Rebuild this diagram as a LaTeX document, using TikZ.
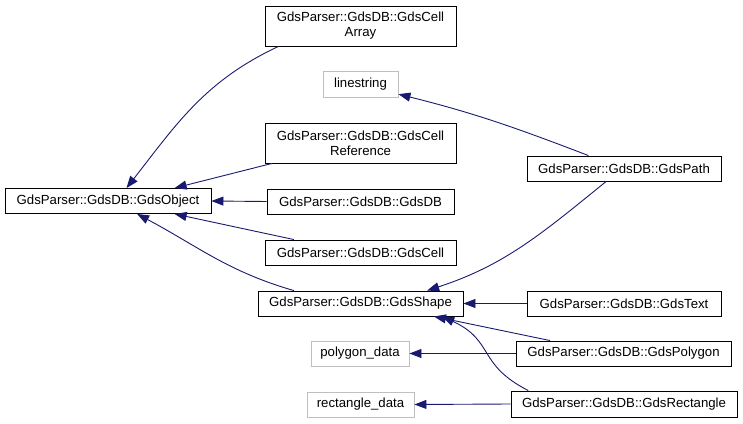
\documentclass[tikz,border=0pt]{standalone}
\usepackage{fontspec}
\setmainfont{Liberation Sans}
\usepackage{xcolor}
\usepackage{tikz}
\usetikzlibrary{arrows.meta, calc}
\definecolor{edgeblue}{HTML}{191970}
\definecolor{extgray}{HTML}{BFBFBF}
\tikzset{
    cls/.style={
        rectangle, draw=black, line width=0.9pt, fill=white,
        inner sep=0pt, align=center, minimum height=25pt,
        font=\fontsize{13.2}{15}\selectfont
    },
    extcls/.style={cls, draw=extgray},
    inherit/.style={draw=edgeblue, line width=0.9pt,
        -{Triangle[length=12pt, width=9pt]}, color=edgeblue}
}

\begin{document}
\begin{tikzpicture}[x=1pt, y=1pt]
        \useasboundingbox (0,0) rectangle (743,423);
        % Layout
        \node [cls, minimum width=206pt] (obj) at (108, 222) {GdsParser::GdsDB::GdsObject};
        \node [cls, minimum width=191pt, minimum height=40pt] (cellarray) at (360.5, 397) {GdsParser::GdsDB::GdsCell\\Array};
        \node [extcls, minimum width=75pt, minimum height=26pt] (linestring) at (360.5, 339) {linestring};
        \node [cls, minimum width=191pt, minimum height=40pt] (cellref) at (360.5, 280) {GdsParser::GdsDB::GdsCell\\Reference};
        \node [cls, minimum width=187pt] (gdsdb) at (360.5, 221.5) {GdsParser::GdsDB::GdsDB};
        \node [cls, minimum width=191pt] (cell) at (360.5, 170.5) {GdsParser::GdsDB::GdsCell};
        \node [cls, minimum width=205pt] (shape) at (360.5, 119.5) {GdsParser::GdsDB::GdsShape};
        \node [extcls, minimum width=98pt] (polydata) at (360, 69.5) {polygon\_data};
        \node [extcls, minimum width=107pt] (rectdata) at (360.5, 18.5) {rectangle\_data};
        \node [cls, minimum width=194pt] (path) at (624, 254.5) {GdsParser::GdsDB::GdsPath};
        \node [cls, minimum width=194pt] (text) at (624, 119.5) {GdsParser::GdsDB::GdsText};
        \node [cls, minimum width=215pt] (polygon) at (623.5, 69.5) {GdsParser::GdsDB::GdsPolygon};
        \node [cls, minimum width=226pt, minimum height=26pt] (rect) at (624, 19) {GdsParser::GdsDB::GdsRectangle};

        % Flows
        \draw [inherit] (cellarray.194) to[out=205, in=52] (obj.35);
        \draw [inherit] (cellref.193) -- (obj.11);
        \draw [inherit] (gdsdb.west) -- (obj.east);
        \draw [inherit] (cell.169) -- (obj.349);
        \draw [inherit] (shape.169) to[out=164, in=-28] (obj.336);
        \draw [inherit] (path.160) to[out=159, in=-14] (linestring.-15);
        \draw [inherit] (path.216) to[out=219, in=18] (shape.11);
        \draw [inherit] (text.west) -- (shape.east);
        \draw [inherit] (polygon.170) -- (shape.350);
        \draw [inherit] (rect.172) to[out=153, in=-25, looseness=1.3] (shape.351);
        \draw [inherit] (polygon.west) -- (polydata.east);
        \draw [inherit] (rect.west) -- (rectdata.east);
    \end{tikzpicture}
\end{document}
